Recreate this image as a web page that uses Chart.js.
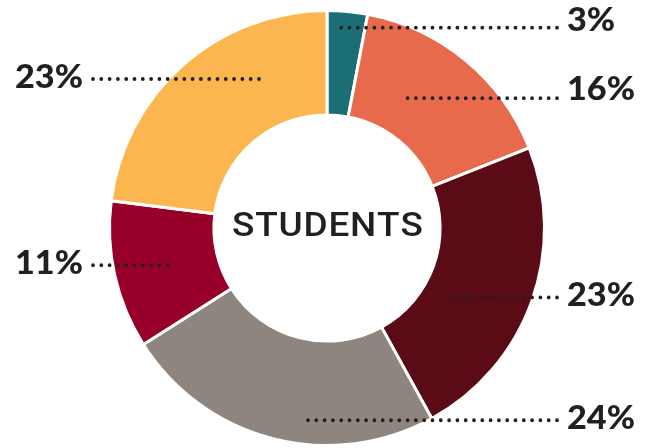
<!DOCTYPE html>
<html>
<head>
<meta charset="utf-8">
<script src="https://cdn.jsdelivr.net/npm/chart.js@4.4.1/dist/chart.umd.min.js"></script>
<style>
  html, body { margin: 0; padding: 0; background: #ffffff; }
  #wrap { width: 646px; height: 448px; position: relative; }
</style>
</head>
<body>
<div id="wrap"><canvas id="c"></canvas></div>
<script>
// ---- data ----
const categories = ['Segment A', 'Segment B', 'Segment C', 'Segment D', 'Segment E', 'Segment F'];
const values = [3, 16, 23, 24, 11, 23];
const valueLabels = ['3%', '16%', '23%', '24%', '11%', '23%'];
const centerTitle = 'STUDENTS';

// ---- style ----
const colors = ['#1b6f74', '#e66a4b', '#5a0b16', '#8e857e', '#960029', '#fbb650'];
// leader layout: side, leader y and inner end x as fractions of outer radius from centre, text y shift
const leaderLayout = [
  { side: 'right', fy: -0.921, fx: 0.051, dy: -5 },
  { side: 'right', fy: -0.597, fx: 0.361, dy: -7 },
  { side: 'right', fy: 0.319, fx: 0.556, dy: 0 },
  { side: 'right', fy: 0.884, fx: -0.125, dy: 0 },
  { side: 'left',  fy: 0.171, fx: -0.718, dy: 0 },
  { side: 'left',  fy: -0.685, fx: -0.278, dy: 0 }
];
const textColor = '#231f20';

function spacedText(ctx, text, cx, y, targetW, sx) {
  const w = ctx.measureText(text).width * sx;
  const ls = Math.max(0, (targetW - w) / (text.length - 1));
  let x = cx - (w + ls * (text.length - 1)) / 2;
  for (const ch of text) {
    ctx.save();
    ctx.translate(x, y);
    ctx.scale(sx, 1);
    ctx.fillText(ch, 0, 0);
    ctx.restore();
    x += ctx.measureText(ch).width * sx + ls;
  }
}

const labelPlugin = {
  id: 'leaderLabels',
  afterDatasetsDraw(chart) {
    const ctx = chart.ctx;
    const meta = chart.getDatasetMeta(0);
    const a0 = meta.data[0];
    const cx = a0.x, cy = a0.y, R = a0.outerRadius;
    const rightLineEnd = 557, rightText = 567, leftText = 83, leftLineStart = 93;
    ctx.save();
    meta.data.forEach((arc, i) => {
      const L = leaderLayout[i];
      const y = cy + L.fy * R;
      const xIn = cx + L.fx * R;
      ctx.beginPath();
      ctx.setLineDash([0, 8.3]);
      ctx.lineCap = 'round';
      ctx.lineWidth = 3.8;
      ctx.strokeStyle = textColor;
      if (L.side === 'right') {
        ctx.moveTo(rightLineEnd, y);
        ctx.lineTo(xIn, y);
      } else {
        ctx.moveTo(leftLineStart, y);
        ctx.lineTo(xIn, y);
      }
      ctx.stroke();
      ctx.setLineDash([]);
      ctx.fillStyle = textColor;
      ctx.font = '900 32px Lato';
      ctx.textBaseline = 'middle';
      ctx.textAlign = L.side === 'right' ? 'left' : 'right';
      const tx = L.side === 'right' ? rightText : leftText;
      ctx.save();
      ctx.translate(tx, y - 1.5 + L.dy);
      ctx.scale(1.07, 1);
      ctx.fillText(valueLabels[i], 0, 0);
      ctx.restore();
    });
    ctx.font = '500 33px Roboto';
    ctx.textBaseline = 'middle';
    ctx.textAlign = 'left';
    ctx.fillStyle = textColor;
    spacedText(ctx, centerTitle, cx, cy - 0.5, 190, 1.12);
    ctx.restore();
  }
};

new Chart(document.getElementById('c'), {
  type: 'doughnut',
  data: {
    labels: categories,
    datasets: [{
      data: values,
      backgroundColor: colors,
      borderColor: '#ffffff',
      borderWidth: 3,
      hoverOffset: 0
    }]
  },
  options: {
    responsive: true,
    maintainAspectRatio: false,
    animation: false,
    cutout: '52%',
    layout: { padding: { top: 9, bottom: 1, left: 8, right: 0 } },
    plugins: {
      legend: { display: false },
      tooltip: { enabled: false }
    }
  },
  plugins: [labelPlugin]
});
</script>
</body>
</html>
